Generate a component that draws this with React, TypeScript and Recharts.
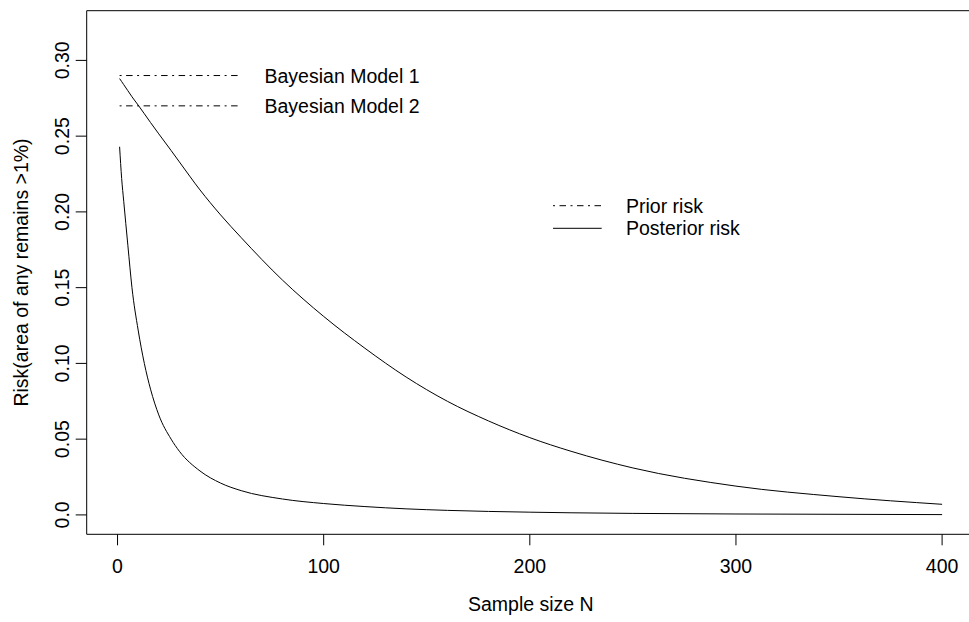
import React from 'react';
import { LineChart, Line, XAxis, YAxis, ReferenceArea, LabelList } from 'recharts';

const sampleSizes = [1, 2, 3, 5, 7, 10, 13, 16, 20, 26, 30, 40, 50, 60, 80, 100, 120, 140, 160, 180, 200, 220, 250, 300, 350, 400];
const model1Posterior = [0.288, 0.286, 0.284, 0.28, 0.276, 0.2705, 0.2648, 0.259, 0.2515, 0.2405, 0.233, 0.2145, 0.198, 0.183, 0.155, 0.131, 0.11, 0.091, 0.075, 0.062, 0.051, 0.042, 0.031, 0.019, 0.012, 0.007];
const model2Posterior = [0.243, 0.222, 0.207, 0.178, 0.15, 0.122, 0.1, 0.083, 0.066, 0.05, 0.042, 0.029, 0.021, 0.016, 0.0105, 0.0075, 0.0055, 0.004, 0.003, 0.0023, 0.0018, 0.0014, 0.001, 0.0006, 0.0004, 0.0002];
const priorSpan = [1, 60];
const priorRisks = [0.29, 0.27];
const modelLabels = ['Bayesian Model 1', 'Bayesian Model 2'];
const legendLabels = ['Prior risk', 'Posterior risk'];
const xTicks = [0, 100, 200, 300, 400];
const yTicks = [0, 0.05, 0.1, 0.15, 0.2, 0.25, 0.3];
const yTickLabels = ['0.0', '0.05', '0.10', '0.15', '0.20', '0.25', '0.30'];
const xTitle = 'Sample size N';
const yTitle = 'Risk(area of any remains >1%)';

const X_DOMAIN: [number, number] = [-14.96, 415.96];
const Y_DOMAIN: [number, number] = [-0.0128, 0.3328];

const posteriorData = sampleSizes.map((n, i) => ({ n, m1: model1Posterior[i], m2: model2Posterior[i] }));
const priorData = priorRisks.map((r) => priorSpan.map((n) => ({ n, v: r })));

const FONT = '"Liberation Sans", Arial, sans-serif';
const FS = 19.5;
const DASH = '2 4.5 6.5 4.5';

const YTick = (props: any) => {
  const { x, y, payload } = props;
  let idx = 0;
  let best = Infinity;
  yTicks.forEach((t, i) => {
    const d = Math.abs(t - payload.value);
    if (d < best) { best = d; idx = i; }
  });
  return (
    <text x={x} y={y} transform={`rotate(-90 ${x} ${y})`} textAnchor="middle" fontSize={FS} fontFamily={FONT} fill="#000">
      {yTickLabels[idx]}
    </text>
  );
};

const XTitle = (props: any) => {
  const vb = props.viewBox || { x: 86.7, y: 534.3, width: 888.3 };
  return (
    <text x={vb.x + vb.width / 2} y={vb.y + 76.4} textAnchor="middle" fontSize={FS} fontFamily={FONT} fill="#000">
      {xTitle}
    </text>
  );
};

const YTitle = (props: any) => {
  const vb = props.viewBox || { x: 0, y: 10.7, height: 523.6 };
  const cx = 28.3;
  const cy = vb.y + vb.height / 2;
  return (
    <text x={cx} y={cy} transform={`rotate(-90 ${cx} ${cy})`} textAnchor="middle" fontSize={FS} fontFamily={FONT} fill="#000">
      {yTitle}
    </text>
  );
};

const makeModelLabel = (label: string) => (props: any) => {
  const { x, y, index } = props;
  if (index !== priorSpan.length - 1) return null;
  return (
    <text x={x + 23.3} y={y} dominantBaseline="central" fontSize={FS} fontFamily={FONT} fill="#000">
      {label}
    </text>
  );
};

const LegendBox = () => {
  const x0 = 553;
  const x1 = 601.7;
  const tx = 626;
  const ys = [205.7, 228.3];
  return (
    <g>
      {legendLabels.map((lab, i) => (
        <g key={lab}>
          <line x1={x0} x2={x1} y1={ys[i]} y2={ys[i]} stroke="#000" strokeWidth={1} strokeDasharray={i === 0 ? DASH : undefined} />
          <text x={tx} y={ys[i]} dominantBaseline="central" fontSize={FS} fontFamily={FONT} fill="#000">{lab}</text>
        </g>
      ))}
    </g>
  );
};

export default function App() {
  return (
    <div style={{ position: 'absolute', left: 0, top: 0, width: 969, height: 622, overflow: 'hidden', background: '#fff' }}>
      <LineChart width={980} height={622} margin={{ top: 10.7, right: 5, bottom: 0, left: 0 }}>
        <XAxis
          type="number"
          dataKey="n"
          domain={X_DOMAIN}
          allowDataOverflow
          ticks={xTicks}
          axisLine={false}
          tickSize={11}
          tickMargin={14}
          tickLine={{ stroke: '#000' }}
          tick={{ fontSize: FS, fontFamily: FONT, fill: '#000' }}
          height={87.7}
          label={<XTitle />}
        />
        <YAxis
          type="number"
          domain={Y_DOMAIN}
          allowDataOverflow
          ticks={yTicks}
          axisLine={false}
          tickSize={11}
          tickMargin={7}
          tickLine={{ stroke: '#000' }}
          tick={<YTick />}
          width={86.7}
          label={<YTitle />}
        />
        <ReferenceArea x1={X_DOMAIN[0]} x2={X_DOMAIN[1]} y1={Y_DOMAIN[0]} y2={Y_DOMAIN[1]} fill="none" fillOpacity={0} stroke="#000" strokeWidth={1} ifOverflow="visible" />
        {priorData.map((d, i) => (
          <Line key={'prior' + i} data={d} dataKey="v" type="linear" stroke="#000" strokeWidth={1} strokeDasharray={DASH} dot={false} isAnimationActive={false}>
            <LabelList dataKey="v" content={makeModelLabel(modelLabels[i])} />
          </Line>
        ))}
        <Line data={posteriorData} dataKey="m1" type="monotone" stroke="#000" strokeWidth={1} dot={false} isAnimationActive={false} />
        <Line data={posteriorData} dataKey="m2" type="monotone" stroke="#000" strokeWidth={1} dot={false} isAnimationActive={false} />
        <LegendBox />
      </LineChart>
    </div>
  );
}
